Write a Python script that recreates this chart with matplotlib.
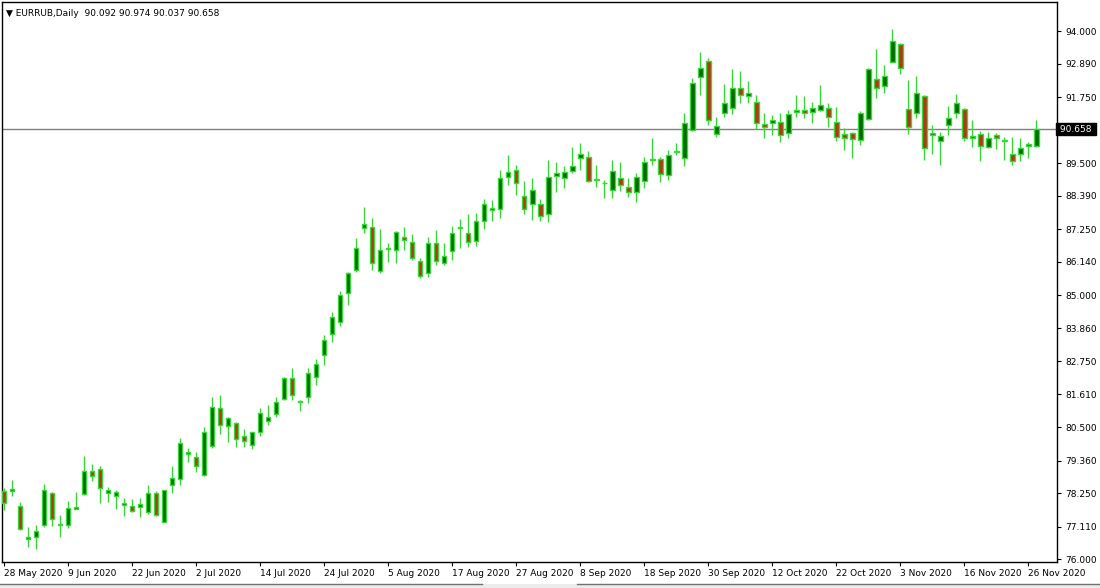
"""
EURRUB daily candlestick chart, MetaTrader style
"""
import numpy as np
import pandas as pd
import matplotlib
matplotlib.use("Agg")
import matplotlib.pyplot as plt
import matplotlib.transforms as mtransforms
from matplotlib.lines import Line2D

symbol = "EURRUB,Daily"
last_ohlc = [90.092, 90.974, 90.037, 90.658]

# trading days on the chart (no bar on 12 Jun and 4 Nov)
dates = pd.bdate_range("2020-05-28", "2020-11-27")
dates = dates.drop(pd.to_datetime(["2020-06-12", "2020-11-04"]))

opens = [78.32, 78.32, 77.81, 76.67, 76.76, 77.15, 78.24, 77.17, 77.16, 77.72,
         78.23, 79.00, 79.06, 78.24, 78.14, 77.86, 77.81, 77.76, 77.60, 78.24,
         77.27, 78.52, 78.72, 79.58, 79.47, 78.86, 79.86, 81.14, 80.52, 80.63,
         80.19, 79.89, 80.32, 80.70, 80.95, 81.45, 82.16, 81.36, 81.53, 82.22,
         82.95, 83.66, 84.09, 85.06, 85.85, 87.27, 87.33, 85.83, 86.56, 86.53,
         86.98, 86.82, 86.17, 85.74, 86.78, 86.08, 86.50, 87.29, 87.10, 86.84,
         87.52, 87.89, 87.93, 89.02, 89.26, 88.39, 88.12, 88.12, 87.76, 89.05,
         88.98, 89.24, 89.66, 89.69, 88.93, 88.81, 88.58, 88.98, 88.67, 88.50,
         88.89, 89.60, 89.64, 89.09, 89.86, 89.66, 90.63, 92.44, 92.99, 90.48,
         91.19, 91.36, 92.07, 91.78, 91.57, 90.84, 90.85, 90.89, 90.51, 91.25,
         91.31, 91.25, 91.31, 91.36, 90.91, 90.49, 90.51, 90.30, 91.00, 92.36,
         92.13, 92.95, 93.56, 91.33, 91.19, 91.79, 90.45, 90.26, 90.80, 91.19,
         91.33, 90.34, 90.49, 90.06, 90.45, 90.25, 89.80, 89.80, 90.09, 90.092]
highs = [78.41, 78.69, 77.93, 77.10, 77.16, 78.55, 78.27, 77.50, 77.98, 78.27,
         79.51, 79.23, 79.17, 78.47, 78.37, 78.07, 78.05, 78.07, 78.52, 78.32,
         78.35, 79.17, 80.14, 79.80, 79.66, 80.51, 81.53, 81.59, 80.85, 80.66,
         80.42, 80.34, 81.14, 81.25, 81.53, 82.22, 82.52, 81.42, 82.52, 82.82,
         83.64, 84.43, 85.15, 85.77, 86.93, 87.99, 87.64, 87.24, 86.78, 87.18,
         87.33, 87.07, 86.25, 86.99, 87.21, 86.76, 87.36, 87.59, 87.78, 87.81,
         88.26, 88.24, 89.26, 89.77, 89.43, 88.89, 88.98, 88.27, 89.60, 89.52,
         89.41, 90.06, 90.20, 89.91, 89.43, 88.92, 89.60, 89.55, 89.00, 89.15,
         89.69, 90.37, 89.72, 89.94, 90.19, 91.19, 92.39, 93.27, 93.09, 91.08,
         92.18, 92.70, 92.64, 92.30, 91.82, 91.19, 91.14, 91.19, 91.31, 91.82,
         91.80, 91.57, 92.16, 91.53, 91.42, 90.68, 90.57, 91.27, 92.73, 93.38,
         92.84, 94.07, 93.58, 92.33, 92.47, 91.82, 90.80, 90.57, 91.44, 91.85,
         91.36, 90.97, 90.59, 90.55, 90.51, 90.40, 90.40, 90.36, 90.23, 90.974]
lows = [77.67, 78.14, 76.99, 76.42, 76.36, 77.10, 77.14, 76.76, 77.05, 77.71,
        78.18, 78.66, 77.90, 77.93, 77.71, 77.48, 77.61, 77.42, 77.53, 77.47,
        77.25, 78.26, 78.52, 79.32, 78.96, 78.84, 79.80, 80.28, 80.00, 79.83,
        79.81, 79.75, 80.20, 80.57, 80.85, 81.42, 81.42, 81.05, 81.31, 81.93,
        82.61, 83.41, 83.94, 84.66, 85.80, 87.10, 85.85, 85.74, 86.14, 86.10,
        86.53, 86.19, 85.57, 85.63, 86.02, 86.02, 86.19, 86.62, 86.65, 86.68,
        87.24, 87.53, 87.64, 88.75, 88.41, 87.78, 87.56, 87.52, 87.50, 88.52,
        88.64, 89.15, 89.26, 88.84, 88.69, 88.32, 88.32, 88.55, 88.35, 88.18,
        88.66, 89.43, 88.86, 88.92, 89.77, 89.41, 90.59, 91.82, 90.80, 90.40,
        91.08, 91.16, 91.53, 91.53, 90.66, 90.36, 90.45, 90.23, 90.36, 91.08,
        91.02, 90.85, 91.27, 90.74, 90.25, 89.94, 89.66, 90.11, 90.97, 91.71,
        91.88, 92.93, 92.53, 90.48, 91.02, 89.60, 89.81, 89.43, 90.45, 91.05,
        90.25, 90.06, 89.57, 90.02, 89.98, 89.60, 89.45, 89.57, 89.68, 90.037]
closes = [77.90, 78.39, 77.02, 76.75, 76.95, 78.37, 77.36, 77.19, 77.73, 77.77,
          79.00, 78.82, 78.41, 78.35, 78.30, 77.90, 77.65, 77.88, 78.26, 77.50,
          78.34, 78.78, 79.94, 79.65, 79.17, 80.34, 81.20, 80.57, 80.80, 80.09,
          80.02, 80.32, 80.97, 80.85, 81.34, 82.16, 81.59, 81.39, 82.33, 82.64,
          83.47, 84.24, 85.00, 85.74, 86.62, 87.41, 86.08, 86.52, 86.59, 87.14,
          86.87, 86.28, 85.65, 86.76, 86.17, 86.33, 87.10, 87.33, 86.82, 87.53,
          88.09, 87.98, 88.99, 89.19, 88.82, 87.95, 88.58, 87.69, 89.01, 89.16,
          89.18, 89.39, 89.81, 88.90, 88.97, 88.83, 89.23, 88.75, 88.53, 89.01,
          89.52, 89.64, 89.11, 89.77, 89.91, 90.88, 92.22, 92.73, 90.97, 90.76,
          91.53, 92.05, 91.82, 91.88, 90.85, 90.72, 90.97, 90.45, 91.16, 91.31,
          91.19, 91.39, 91.48, 91.08, 90.40, 90.34, 90.31, 91.22, 92.71, 92.05,
          92.48, 93.66, 92.73, 90.74, 91.88, 90.03, 90.53, 90.42, 91.02, 91.53,
          90.34, 90.42, 90.09, 90.34, 90.36, 90.30, 89.57, 90.03, 90.15, 90.658]

price_ticks = [94.0, 92.89, 91.75, 89.5, 88.39, 87.25, 86.14, 85.0, 83.86,
               82.75, 81.61, 80.5, 79.36, 78.25, 77.11, 76.0]

opens = np.array(opens)
highs = np.array(highs)
lows = np.array(lows)
closes = np.array(closes)
x = np.arange(len(dates))
up = closes >= opens

wick_col = "#38d838"
bull_body = "#006a00"
bear_body = "#b03a12"

plt.rcParams["font.family"] = ["DejaVu Sans"]

fig = plt.figure(figsize=(11, 5.88), dpi=100)
ax = fig.add_axes([2 / 1100, 1 - 562 / 588, 1055 / 1100, 560 / 588])

ax.axhline(last_ohlc[3], color="#808080", lw=1, zorder=1)

ax.vlines(x, lows, highs, color=wick_col, lw=1, zorder=2)
body_lo = np.minimum(opens, closes)
body_h = np.maximum(np.abs(closes - opens), 0.01)
ax.bar(x, body_h, bottom=body_lo, width=0.6,
       color=np.where(up, bull_body, bear_body),
       edgecolor=wick_col, linewidth=1, zorder=3)

ax.set_xlim(-0.25, 131.6)
ax.set_ylim(75.9, 94.99)

# price scale on the right
ax.yaxis.tick_right()
ax.set_yticks(price_ticks)
ax.set_yticklabels([f"{p:.3f}" for p in price_ticks])
ax.tick_params(axis="y", direction="out", length=3, width=0.8,
               labelsize=6.5, pad=3)

trans = mtransforms.blended_transform_factory(ax.transAxes, ax.transData)
ax.text(1.0, last_ohlc[3], f" {last_ohlc[3]:.3f} ", transform=trans,
        ha="left", va="center", fontsize=6.5, color="white",
        bbox=dict(boxstyle="square,pad=0.15", fc="black", ec="black"))

# time scale, one label every 8 bars
pos = x[::8]
ax.set_xticks(pos)
ax.set_xticklabels([f"{d.day} {d.strftime('%b %Y')}" for d in dates[pos]],
                   ha="left")
ax.tick_params(axis="x", direction="out", length=3, width=0.8,
               labelsize=6.5, pad=2)

for s in ax.spines.values():
    s.set_linewidth(1)
    s.set_color("black")

ax.text(0.004, 0.988, f"\u25bc {symbol}  " + " ".join(f"{v:.3f}" for v in last_ohlc),
        transform=ax.transAxes, ha="left", va="top", fontsize=6.5)

# tab strip at the very bottom of the terminal window
fig.patches.append(plt.Rectangle((0, 0), 1, 4 / 588, transform=fig.transFigure,
                                 fc="#ececec", ec="none"))
fig.lines.append(Line2D([0, 482 / 1100], [4 / 588, 4 / 588],
                        transform=fig.transFigure, color="#707070", lw=1))
fig.lines.append(Line2D([577 / 1100, 1], [4 / 588, 4 / 588],
                        transform=fig.transFigure, color="#707070", lw=1))

fig.savefig("out.png", dpi=100)
